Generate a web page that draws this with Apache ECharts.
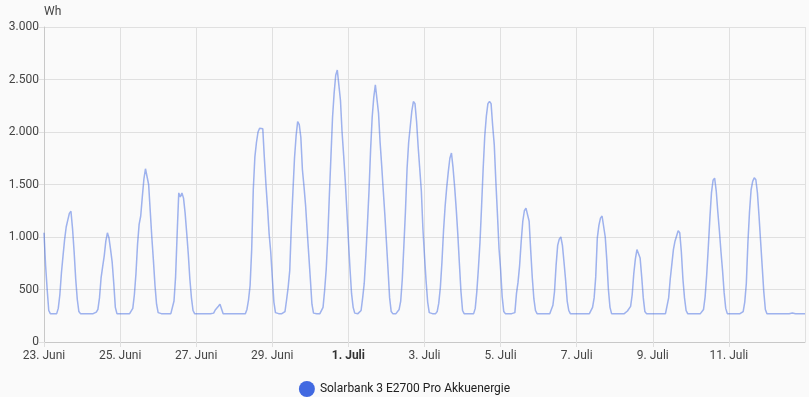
<!DOCTYPE html>
<html>
<head>
<meta charset="utf-8">
<script src="https://cdn.jsdelivr.net/npm/echarts@6/dist/echarts.min.js"></script>
<style>
html,body{margin:0;padding:0;background:#fafafa;}
#c{width:809px;height:397px;}
</style>
</head>
<body>
<div id="c"></div>
<script>
// Day names (one per day, 23 Juni .. 13 Juli)
const dayNames = ['23. Juni','24. Juni','25. Juni','26. Juni','27. Juni','28. Juni','29. Juni','30. Juni',
  '1. Juli','2. Juli','3. Juli','4. Juli','5. Juli','6. Juli','7. Juli','8. Juli','9. Juli','10. Juli','11. Juli','12. Juli','13. Juli'];
// Tick labels shown on the x axis (every 2 days)
const tickLabels = ['23. Juni','25. Juni','27. Juni','29. Juni','1. Juli','3. Juli','5. Juli','7. Juli','9. Juli','11. Juli'];
const boldLabels = ['1. Juli'];
const yTicks = ['0','500','1.000','1.500','2.000','2.500','3.000'];
const seriesName = 'Solarbank 3 E2700 Pro Akkuenergie';
const unit = 'Wh';

// Hourly values (Wh), hour 0..23 of each day
const d0  = [1040,730,500,300,270,270,270,270,270,320,450,660,820,975,1095,1160,1225,1245,1080,860,600,405,290,270];
const d1  = [270,270,270,270,270,270,270,270,285,285,310,420,610,717,820,960,1040,990,880,760,560,330,270,270];
const d2  = [270,270,270,270,270,270,270,270,320,450,650,930,1120,1200,1380,1550,1650,1650,1500,1250,1000,780,540,360];
const d3  = [280,270,270,270,270,270,270,270,270,270,390,620,1035,1420,1380,1420,1370,1230,1040,840,600,420,300,270];
const d4  = [270,270,270,270,270,270,270,270,270,270,270,275,305,305,340,360,360,270,270,270,270,270,270,270];
const d5  = [270,270,270,270,270,270,270,270,310,400,540,880,1450,1760,1900,2000,2035,2035,2030,1750,1500,1280,1030,860];
const d6  = [615,380,280,270,270,270,270,270,290,400,520,680,1100,1430,1750,1960,2100,2070,1950,1640,1480,1300,1060,830];
const d7  = [600,360,275,270,270,270,270,270,330,490,690,1000,1400,1770,2140,2370,2540,2590,2580,2300,2000,1780,1540,1260];
const d8  = [970,700,460,330,275,270,270,270,300,420,560,820,1120,1440,1830,2140,2330,2450,2445,2180,1900,1680,1440,1210];
const d9  = [950,690,420,290,270,270,270,270,310,390,600,920,1250,1650,1900,2050,2200,2290,2270,2100,1860,1650,1440,1080];
const d10 = [820,580,380,280,270,270,270,270,290,370,520,760,1060,1290,1470,1620,1750,1800,1660,1480,1270,1030,750,480];
const d11 = [300,270,270,270,270,270,270,270,320,480,700,950,1290,1650,1960,2150,2270,2290,2270,2060,1880,1530,1220,890];
const d12 = [690,430,290,270,270,270,270,270,270,280,460,570,730,960,1150,1250,1275,1280,1150,870,610,410,300,270];
const d13 = [270,270,270,270,270,270,270,270,270,350,480,730,920,980,1000,920,760,590,390,300,270,270,270,270];
const d14 = [270,270,270,270,270,270,270,270,270,270,330,420,620,990,1110,1180,1200,1195,1000,780,500,330,270,270];
const d15 = [270,270,270,270,270,270,270,270,295,300,340,450,650,790,880,895,800,620,420,290,270,270,270,270];
const d16 = [270,270,270,270,270,270,270,270,270,270,420,600,740,880,960,1010,1060,1040,860,600,420,300,270,270];
const d17 = [270,270,270,270,270,270,270,270,310,430,640,900,1180,1420,1540,1560,1440,1240,1060,860,680,470,320,270];
const d18 = [270,270,270,270,270,270,270,270,270,290,380,560,950,1240,1450,1530,1565,1545,1420,1200,960,720,480,310];
const d19 = [270,270,270,270,270,270,270,270,270,270,270,270,270,275,270,272,276,270,270,274,270,270,270,270];
const dEnd = [270];

const days = [d0,d1,d2,d3,d4,d5,d6,d7,d8,d9,d10,d11,d12,d13,d14,d15,d16,d17,d18,d19];
const categories = [];
const values = [];
days.forEach((arr, di) => {
  arr.forEach((v, h) => {
    categories.push(dayNames[di] + ' ' + String(h).padStart(2,'0') + ':00');
    values.push(v);
  });
});
categories.push(dayNames[20] + ' 00:00');
values.push(dEnd[0]);

const PER_TICK = 48;
const font = 'Roboto, "Noto Sans", sans-serif';
const gridColor = '#e0e0e0';

const chart = echarts.init(document.getElementById('c'), null, {renderer:'canvas'});
chart.setOption({
  backgroundColor: '#fafafa',
  animation: false,
  textStyle: {fontFamily: font},
  grid: {left: 44, right: 4, top: 27, bottom: 55, containLabel: false},
  legend: {
    top: 376,
    left: 'center',
    icon: 'circle',
    itemWidth: 16, itemHeight: 16, itemGap: 10,
    itemStyle: {color: '#4169e1', opacity: 1},
    textStyle: {color: '#212121', fontSize: 12, fontFamily: font},
    data: [seriesName]
  },
  xAxis: {
    type: 'category',
    boundaryGap: false,
    data: categories,
    axisLine: {show: true, lineStyle: {color: '#c8c8c8', width: 1}},
    axisTick: {show: true, length: 5, lineStyle: {color: gridColor},
      interval: (i) => i % PER_TICK === 0 && i < 480},
    splitLine: {show: true, lineStyle: {color: gridColor, width: 1},
      interval: (i) => i % PER_TICK === 0},
    axisLabel: {
      interval: (i) => i % PER_TICK === 0 && i < 480,
      margin: 8,
      color: '#444',
      fontSize: 12,
      fontFamily: font,
      formatter: (v, i) => {
        const t = tickLabels[i / PER_TICK];
        if (!t) return '';
        return boldLabels.includes(t) ? '{b|' + t + '}' : t;
      },
      rich: {b: {fontWeight: 'bold', color: '#333', fontSize: 12, fontFamily: font}}
    }
  },
  yAxis: {
    type: 'value',
    min: 0, max: 3000, interval: 500,
    name: unit,
    nameLocation: 'end',
    nameGap: 9,
    nameTextStyle: {align: 'left', color: '#444', fontSize: 12, fontFamily: font},
    axisLine: {show: true, lineStyle: {color: '#c8c8c8'}},
    axisTick: {show: true, length: 5, lineStyle: {color: gridColor}},
    splitLine: {show: true, lineStyle: {color: gridColor}},
    axisLabel: {
      margin: 5, color: '#444', fontSize: 12, fontFamily: font,
      formatter: (v) => yTicks[Math.round(v / 500)]
    }
  },
  series: [{
    name: seriesName,
    type: 'line',
    data: values,
    showSymbol: false,
    symbol: 'none',
    color: '#4169e1',
    lineStyle: {color: '#4169e1', width: 1.5, opacity: 0.5},
    itemStyle: {color: '#4169e1'}
  }]
});
</script>
</body>
</html>
